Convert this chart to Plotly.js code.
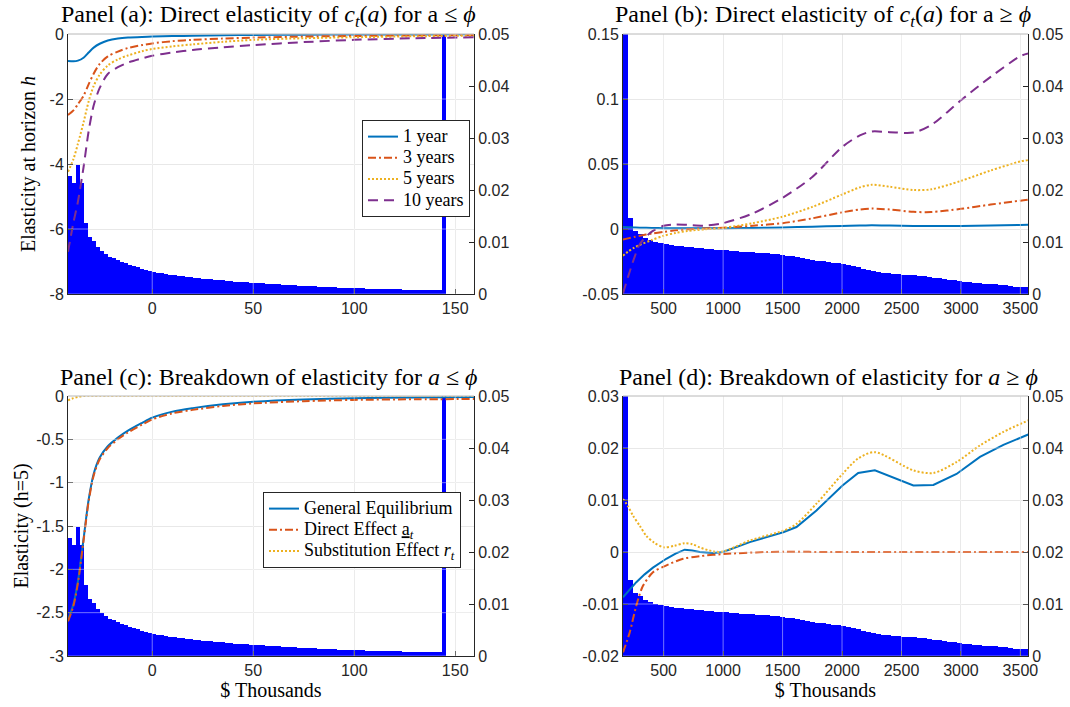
<!DOCTYPE html>
<html><head><meta charset="utf-8">
<script src="https://cdn.plot.ly/plotly-3.0.1.min.js"></script>
<style>html,body{margin:0;padding:0;background:#fff}#chart{width:1070px;height:707px}</style>
</head><body><div id="chart"></div>
<script>
// ---------- data ----------
const xLow = [-41.7,-39,-36.8,-34,-31.5,-29,-26,-22,-17,-12,-5,0,10,20,35,50,75,100,130,159.3];
const low1yr  = [-0.83,-0.84,-0.82,-0.73,-0.57,-0.42,-0.30,-0.20,-0.14,-0.11,-0.09,-0.08,-0.065,-0.055,-0.04,-0.03,-0.02,-0.015,-0.012,-0.01];
const low3yr  = [-2.49,-2.35,-2.16,-1.90,-1.55,-1.22,-0.92,-0.69,-0.54,-0.43,-0.34,-0.29,-0.22,-0.18,-0.14,-0.11,-0.08,-0.06,-0.045,-0.03];
const low5yr  = [-4.24,-3.85,-3.38,-2.72,-2.08,-1.60,-1.25,-0.97,-0.78,-0.66,-0.53,-0.46,-0.38,-0.32,-0.24,-0.18,-0.13,-0.10,-0.07,-0.05];
const low10yr = [-6.70,-5.80,-5.16,-4.10,-3.00,-2.20,-1.66,-1.23,-1.02,-0.88,-0.75,-0.67,-0.57,-0.49,-0.41,-0.34,-0.25,-0.18,-0.13,-0.10];

const lowGE  = [-2.58,-2.40,-2.14,-1.65,-1.20,-0.90,-0.71,-0.58,-0.48,-0.40,-0.31,-0.25,-0.18,-0.14,-0.095,-0.066,-0.04,-0.027,-0.017,-0.012];
const lowDir = [-2.60,-2.42,-2.16,-1.67,-1.22,-0.92,-0.73,-0.60,-0.50,-0.42,-0.33,-0.27,-0.20,-0.16,-0.115,-0.085,-0.06,-0.045,-0.038,-0.035];
const lowSub = [-0.05,-0.025,-0.01,0.0,0.002,0.003,0.003,0.003,0.003,0.003,0.003,0.003,0.003,0.003,0.003,0.003,0.003,0.003,0.003,0.003];

const xHigh = [158,200,250,300,400,500,600,700,850,1000,1250,1500,1750,2000,2150,2250,2400,2600,2750,3000,3250,3500,3564];
const high1yr  = [0.0015,0.0014,0.0012,0.0010,0.0008,0.0006,0.0005,0.0005,0.0005,0.0006,0.0008,0.0012,0.0018,0.0024,0.0027,0.0028,0.0027,0.0024,0.0023,0.0024,0.0027,0.0031,0.0032];
const high3yr  = [-0.0080,-0.0072,-0.0062,-0.0052,-0.0035,-0.0022,-0.0010,-0.0002,0.0004,0.0010,0.0025,0.0045,0.0082,0.0128,0.0150,0.0157,0.0150,0.0132,0.0130,0.0155,0.0188,0.0218,0.0225];
const high5yr  = [-0.0205,-0.0175,-0.0145,-0.0122,-0.0085,-0.0052,-0.0030,-0.0015,-0.0002,0.0008,0.0045,0.0095,0.0170,0.0265,0.0320,0.0340,0.0325,0.0300,0.0305,0.0370,0.0450,0.0520,0.0530];
const high10yr = [-0.0495,-0.0370,-0.0230,-0.0115,-0.0020,0.0025,0.0035,0.0032,0.0026,0.0045,0.0120,0.0240,0.0400,0.0630,0.0720,0.0750,0.0745,0.0742,0.0800,0.0990,0.1170,0.1330,0.1350];

const xGE  = [158,214,270,340,410,522,600,677,740,803,915,1000,1224,1505,1617,1785,2004,2136,2276,2600,2768,2963,3160,3357,3566];
const highGE = [-0.0087,-0.0072,-0.0058,-0.0043,-0.0030,-0.0013,-0.0003,0.00045,0.0003,0.0,-0.0002,0.0,0.0019,0.0038,0.0048,0.0080,0.0128,0.0152,0.0157,0.0128,0.0129,0.0150,0.0183,0.0206,0.0226];
const xSub = [158,200,242,300,354,420,500,590,677,740,803,915,1000,1224,1505,1617,1785,2004,2136,2276,2600,2768,2963,3160,3357,3566];
const highSub = [0.0102,0.0088,0.0070,0.0050,0.0031,0.0018,0.0009,0.0012,0.0017,0.0015,0.0009,0.0001,0.0001,0.0022,0.0041,0.0054,0.0093,0.0150,0.0180,0.0192,0.0157,0.0152,0.0173,0.0205,0.0231,0.0253];
const xDir = [158,214,270,326,410,500,663,803,1000,1364,2000,3000,3566];
const highDir = [-0.0193,-0.0155,-0.0103,-0.0065,-0.0039,-0.0028,-0.0013,-0.0008,-0.0004,0.0,0.0,0.0,0.0];

// histogram of the wealth distribution (right axis), equal-width bins
const histLowStart = -41.7, histLowWidth = 1.99;
const histLow = [0.0227,0.0213,0.0248,0.0213,0.0137,0.0110,0.0101,0.0091,0.0083,0.0076,
 0.0072,0.0069,0.0065,0.0062,0.0059,0.0056,0.0053,0.0051,0.0048,0.0046,
 0.0044,0.0043,0.0041,0.0040,0.0038,0.0037,0.0036,0.0035,0.0034,0.0033,
 0.0032,0.0031,0.0030,0.0029,0.0029,0.0028,0.0027,0.0027,0.0026,0.0025,
 0.0025,0.0024,0.0024,0.0023,0.0023,0.0022,0.0022,0.0021,0.0021,0.0020,
 0.0020,0.0019,0.0019,0.0018,0.0018,0.0017,0.0017,0.0016,0.0016,0.0015,
 0.0015,0.0015,0.0014,0.0014,0.0013,0.0013,0.0013,0.0012,0.0012,0.0012,
 0.0011,0.0011,0.0011,0.0011,0.0010,0.0010,0.0010,0.0010,0.0009,0.0009,
 0.0009,0.0009,0.0009,0.0008,0.0008,0.0008,0.0008,0.0008,0.0008,0.0008,
 0.0008,0.0008,0.0008,0.0800];
const histHighStart = 158, histHighWidth = 42.575;
const histHigh = [0.0850,0.0146,0.0122,0.0115,0.0108,0.0103,0.0100,0.0098,0.0096,0.0095,
 0.0093,0.0092,0.0091,0.0090,0.0089,0.0088,0.0087,0.0086,0.0085,0.0085,
 0.0084,0.0083,0.0082,0.0081,0.0080,0.0080,0.0079,0.0078,0.0078,0.0077,
 0.0076,0.0075,0.0074,0.0073,0.0072,0.0070,0.0068,0.0066,0.0064,0.0063,
 0.0062,0.0060,0.0059,0.0058,0.0056,0.0053,0.0051,0.0048,0.0046,0.0045,
 0.0043,0.0041,0.0040,0.0039,0.0038,0.0037,0.0037,0.0036,0.0035,0.0034,
 0.0032,0.0031,0.0030,0.0028,0.0027,0.0026,0.0025,0.0024,0.0023,0.0022,
 0.0021,0.0020,0.0020,0.0019,0.0018,0.0017,0.0015,0.0014,0.0014,0.0014];

// ticks
const xTickLow = [0,50,100,150];
const xTickHigh = [500,1000,1500,2000,2500,3000,3500];
const yTickA = [-8,-6,-4,-2,0];
const yTickB = [-0.05,0,0.05,0.1,0.15];
const yTickC = [-3,-2.5,-2,-1.5,-1,-0.5,0];
const yTickD = [-0.02,-0.01,0,0.01,0.02,0.03];
const yTickHist = [0,0.01,0.02,0.03,0.04,0.05];
const labels1 = ['1 year','3 years','5 years','10 years'];
const labels2 = ['General Equilibrium','Direct Effect <u>a</u><sub><i>t</i></sub>','Substitution Effect <i>r</i><sub><i>t</i></sub>'];

// ---------- styling ----------
const C = ['#0072BD','#D95319','#EDB120','#7E2F8E'];
const DASH = ['solid','8px,3px,2px,3px','2px,2px','10px,6px'];
const axCol = '#262626';
const tickFont = {family:'Liberation Sans, Arial, sans-serif', size:16, color:axCol};
const serif = 'Liberation Serif, Times New Roman, serif';
const titleFont = {family:serif, size:20, color:'#000'};
const lbl = v => String(v);
const big = s => '<span style="font-size:18px">' + s + '</span>';

function ln(x,y,name,i,xa,ya,leg,shape){
  return {type:'scatter',mode:'lines',x:x,y:y,name:big(name),xaxis:xa,yaxis:ya,legend:leg||'legend',
    showlegend:!!leg, hoverinfo:'skip',
    line:{color:C[i],width:2,dash:DASH[i],shape:shape||'spline',smoothing:0.8}};
}
function bars(start,w,vals,xa,ya){
  return {type:'bar',x0:start+w/2,dx:w,width:w,y:vals,xaxis:xa,yaxis:ya,showlegend:false,
    hoverinfo:'skip',marker:{color:'#0000ff',line:{width:0}}};
}

const data = [
  bars(histLowStart,histLowWidth,histLow,'x','y'),
  ln(xLow,low1yr,labels1[0],0,'x','y2','legend'),
  ln(xLow,low3yr,labels1[1],1,'x','y2','legend'),
  ln(xLow,low5yr,labels1[2],2,'x','y2','legend'),
  ln(xLow,low10yr,labels1[3],3,'x','y2','legend'),

  bars(histHighStart,histHighWidth,histHigh,'x2','y3'),
  ln(xHigh,high1yr,labels1[0],0,'x2','y4'),
  ln(xHigh,high3yr,labels1[1],1,'x2','y4'),
  ln(xHigh,high5yr,labels1[2],2,'x2','y4'),
  ln(xHigh,high10yr,labels1[3],3,'x2','y4'),

  bars(histLowStart,histLowWidth,histLow,'x3','y5'),
  ln(xLow,lowGE,labels2[0],0,'x3','y6','legend2'),
  ln(xLow,lowDir,labels2[1],1,'x3','y6','legend2'),
  ln(xLow,lowSub,labels2[2],2,'x3','y6','legend2'),

  bars(histHighStart,histHighWidth,histHigh,'x4','y7'),
  ln(xGE,highGE,labels2[0],0,'x4','y8',null,'linear'),
  ln(xDir,highDir,labels2[1],1,'x4','y8'),
  ln(xSub,highSub,labels2[2],2,'x4','y8')
];

const W=1070,H=707;
const dom = {
  xl:[68/W,474/W], xr:[623/W,1028/W],
  yt:[1-294/H,1-34/H], yb:[1-656/H,1-396/H]
};
function xax(d,range,tv,anchor,title,standoff){
  const a = {domain:d,range:range,tickvals:tv,ticktext:tv.map(lbl),anchor:anchor,
    showgrid:true,gridcolor:'#e2e2e2',gridwidth:1,zeroline:false,showline:true,linecolor:axCol,linewidth:1,
    ticks:'inside',ticklen:5,tickcolor:axCol,tickfont:tickFont,fixedrange:true};
  if(title) a.title = {text:title,font:titleFont,standoff:standoff};
  return a;
}
function yHist(d,anchor){
  return {domain:d,anchor:anchor,side:'right',range:[0,0.05],tickvals:yTickHist,ticktext:yTickHist.map(lbl),
    showgrid:false,zeroline:false,showline:true,linecolor:axCol,linewidth:1,
    ticks:'inside',ticklen:5,tickcolor:axCol,tickfont:tickFont,fixedrange:true};
}
function yLine(over,anchor,range,tv,title,standoff){
  const a = {overlaying:over,anchor:anchor,side:'left',range:range,tickvals:tv,ticktext:tv.map(lbl),
    showgrid:true,gridcolor:'#e2e2e2',gridwidth:1,zeroline:false,showline:true,linecolor:axCol,linewidth:1,
    ticks:'inside',ticklen:5,tickcolor:axCol,tickfont:tickFont,fixedrange:true};
  if(title) a.title = {text:title,font:titleFont,standoff:standoff};
  return a;
}

// gridlines drawn again over the bars (axes layer on top), plus light top border
const shapes = [];
function overGrid(xr,yr,xt){
  xt.forEach(v=>shapes.push({type:'line',layer:'above',xref:xr,yref:yr+' domain',x0:v,x1:v,y0:0,y1:1,line:{color:'rgba(255,255,255,0.45)',width:1}}));
}
function overGridY(xr,yl,yt){
  yt.forEach(v=>shapes.push({type:'line',layer:'above',xref:xr+' domain',yref:yl,x0:0,x1:1,y0:v,y1:v,line:{color:'rgba(255,255,255,0.45)',width:1}}));
}
overGrid('x','y',xTickLow); overGridY('x','y2',yTickA);
overGrid('x2','y3',xTickHigh); overGridY('x2','y4',yTickB);
overGrid('x3','y5',xTickLow); overGridY('x3','y6',yTickC);
overGrid('x4','y7',xTickHigh); overGridY('x4','y8',yTickD);
[['x','y'],['x2','y3'],['x3','y5'],['x4','y7']].forEach(p=>shapes.push({type:'line',layer:'above',
  xref:p[0]+' domain',yref:p[1]+' domain',x0:0,x1:1,y0:1,y1:1,line:{color:'#b8b8b8',width:1}}));

function ann(text,px,py,size){
  return {text:text,xref:'paper',yref:'paper',x:px/W,y:1-py/H,xanchor:'center',yanchor:'middle',
    showarrow:false,font:{family:serif,size:size,color:'#000'}};
}
const annotations = [
  ann('Panel (a): Direct elasticity of <i>c</i><sub><i>t</i></sub>(<i>a</i>) for a ≤ <i>ϕ</i>',268,16,24),
  ann('Panel (b): Direct elasticity of <i>c</i><sub><i>t</i></sub>(<i>a</i>) for a ≥ <i>ϕ</i>',823,16,24),
  ann('Panel (c): Breakdown of elasticity for <i>a</i> ≤ <i>ϕ</i>',268,377,24),
  ann('Panel (d): Breakdown of elasticity for <i>a</i> ≥ <i>ϕ</i>',828,377,24)
];

const legStyle = {bgcolor:'#fff',bordercolor:axCol,borderwidth:1,font:{family:serif,size:14,color:'#000'},
  xanchor:'left',yanchor:'top',tracegroupgap:0,itemwidth:30};

const layout = {
  width:W,height:H,margin:{l:0,r:0,t:0,b:0},paper_bgcolor:'#fff',plot_bgcolor:'#fff',
  showlegend:true,bargap:0,barmode:'overlay',
  xaxis: xax(dom.xl,[-41.7,159.3],xTickLow,'y'),
  yaxis: yHist(dom.yt,'x'),
  yaxis2: yLine('y','x',[-8,0],yTickA,'Elasticity at horizon <i>h</i>',8),
  xaxis2: xax(dom.xr,[158,3564],xTickHigh,'y3'),
  yaxis3: yHist(dom.yt,'x2'),
  yaxis4: yLine('y3','x2',[-0.05,0.15],yTickB),
  xaxis3: xax(dom.xl,[-41.7,159.3],xTickLow,'y5','$ Thousands',4),
  yaxis5: yHist(dom.yb,'x3'),
  yaxis6: yLine('y5','x3',[-3,0],yTickC,'Elasticity (h=5)',2),
  xaxis4: xax(dom.xr,[158,3564],xTickHigh,'y7','$ Thousands',4),
  yaxis7: yHist(dom.yb,'x4'),
  yaxis8: yLine('y7','x4',[-0.02,0.03],yTickD),
  legend: Object.assign({x:362/W,y:1-120/H},legStyle),
  legend2: Object.assign({x:263/W,y:1-492/H},legStyle),
  shapes:shapes, annotations:annotations
};
Plotly.newPlot('chart',data,layout,{staticPlot:true,displayModeBar:false});
</script></body></html>
